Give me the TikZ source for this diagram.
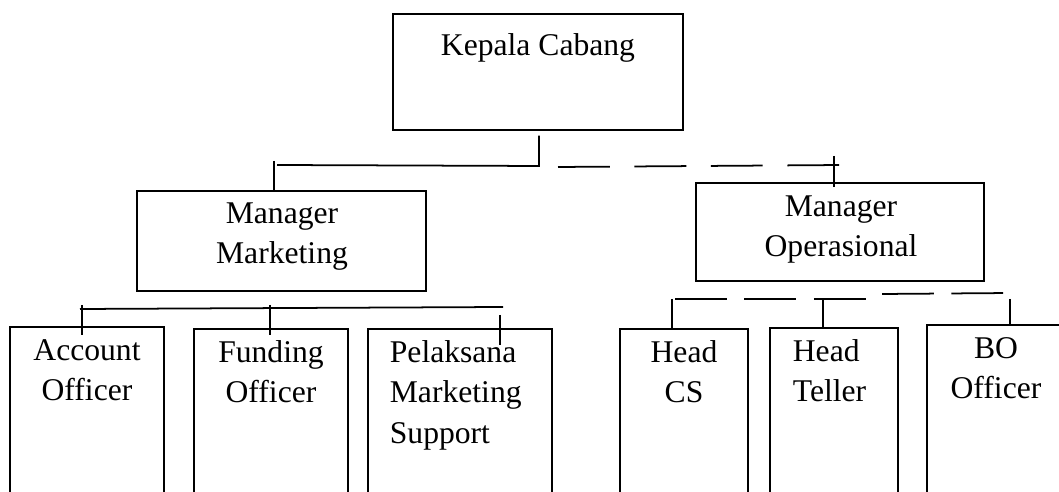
\documentclass[tikz,border=0pt]{standalone}
\usepackage{fontspec}
\setmainfont{Liberation Serif}

\tikzset{
  block/.style = {draw, rectangle, inner sep = 0pt, line width = 1pt},
  blocktext/.style = {font = \fontsize{18}{23}\selectfont, align = center, anchor = north, inner sep = 0pt, execute at begin node = \strut},
  putusatas/.style = {dash pattern = on 29.5pt off 14pt},
  putusbawah/.style = {dash pattern = on 29.5pt off 10pt}
}

\begin{document}
\begin{tikzpicture}[x = 0.02cm, y = -0.02cm, line width = 1pt]
		\useasboundingbox (0, 0) rectangle (1059, 492);
		\clip (0, 0) rectangle (1059, 492);

		% kotak jabatan
		\node [block, minimum width = 5.80cm, minimum height = 2.33cm] at (538, 72) (kc) {};
		\node [block, minimum width = 5.78cm, minimum height = 2.00cm] at (281.5, 241) (mm) {};
		\node [block, minimum width = 5.76cm, minimum height = 1.96cm] at (840, 232) (mo) {};
		\node [block, minimum width = 3.08cm, minimum height = 4.66cm] at (87, 443.5) (ao) {};
		\node [block, minimum width = 3.08cm, minimum height = 4.62cm] at (271, 444.5) (fo) {};
		\node [block, minimum width = 3.68cm, minimum height = 4.62cm] at (460, 444.5) (pms) {};
		\node [block, minimum width = 2.56cm, minimum height = 4.62cm] at (684, 444.5) (hcs) {};
		\node [block, minimum width = 2.56cm, minimum height = 4.64cm] at (834, 444) (ht) {};
		\node [block, minimum width = 3.26cm, minimum height = 4.70cm] at (1008.5, 442.5) (bo) {};

		% teks
		\node [blocktext] at (538, 26.6) (kct) {Kepala Cabang};
		\node [blocktext] at (282, 202) (mmt) {Manager\\Marketing};
		\node [blocktext] at (841, 195) (mot) {Manager\\Operasional};
		\node [blocktext] at (87, 338.6) (aot) {Account\\Officer};
		\node [blocktext] at (271, 339.6) (fot) {Funding\\Officer};
		\node [blocktext, anchor = north west, align = left] at (389, 339.6) (pmst) {Pelaksana\\Marketing\\Support};
		\node [blocktext] at (684, 339.6) (hcst) {Head\\CS};
		\node [blocktext, anchor = north west, align = left] at (792, 338.6) (htt) {Head\\Teller};
		\node [blocktext] at (996, 336.6) (bot) {BO\\Officer};

		% garis dari kepala cabang
		\coordinate (kcbus) at (539, 166);
		\coordinate (mmbus) at (277, 165);
		\coordinate (mmtick) at (274, 161);
		\coordinate (kcdash) at (558, 167);
		\coordinate (mobus) at (843, 165);
		\coordinate (motick) at (834, 156);
		\draw [shorten <= 2.5pt] (kc.south -| kcbus) -- (kcbus) -- (mmbus);
		\draw (mmtick) -- (mmtick |- mm.north);
		\draw [putusatas] (kcdash) -- (mobus);
		\draw (motick) -- ++(0, 31);

		% garis bawah manager marketing
		\coordinate (mkkiri) at (80, 309);
		\coordinate (mkkanan) at (503, 307);
		\coordinate (aotick) at (82, 305);
		\coordinate (fotick) at (270, 305);
		\coordinate (pmstick) at (500, 315);
		\draw (mkkiri) -- (mkkanan);
		\draw (aotick) -- ++(0, 30);
		\draw (fotick) -- ++(0, 30);
		\draw (pmstick) -- ++(0, 30);

		% garis bawah manager operasional
		\coordinate (opa) at (675, 299);
		\coordinate (opb) at (871, 299);
		\coordinate (opc) at (882, 294);
		\coordinate (opd) at (1011, 293);
		\coordinate (hcstick) at (672, 299);
		\coordinate (httick) at (823, 299);
		\coordinate (botick) at (1010, 299);
		\draw [putusbawah] (opa) -- (opb);
		\draw [putusbawah] (opc) -- (opd);
		\draw (hcstick) -- (hcstick |- hcs.north);
		\draw (httick) -- (httick |- ht.north);
		\draw (botick) -- (botick |- bo.north);
	\end{tikzpicture}
\end{document}
